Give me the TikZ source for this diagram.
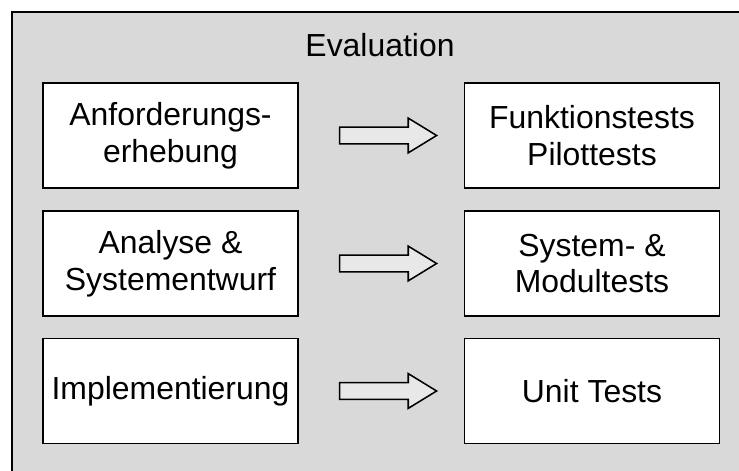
\documentclass[tikz,border=0pt]{standalone}
\usepackage{fontspec}
\setmainfont{Liberation Sans}
\usetikzlibrary{shapes.arrows,calc}

\tikzset{
    stage/.style={draw, fill=white, line width=1.3pt, align=center,
        minimum width=6.375cm, minimum height=2.625cm, inner sep=0pt},
    blockarrow/.style={single arrow, draw, fill=black!9, line width=1.1pt,
        minimum height=2.425cm, inner xsep=0pt, inner ysep=0.19cm,
        single arrow head extend=0.225cm, single arrow tip angle=63}
}

\begin{document}
\begin{tikzpicture}[x=0.025cm, y=-0.025cm, font=\fontsize{22.7}{26.2}\selectfont]
    \useasboundingbox (0,0) rectangle (739,471);
    \clip (0,0) rectangle (739,471);

    % outer frame (runs off the page on the right and at the bottom)
    \draw[fill=black!15, line width=1.3pt] (12,12) rectangle (770,500);
    \node (title) at (380,45) {Evaluation};

    % development phases
    \node[stage] (anf) at (170.5,135.5) {Anforderungs-\\erhebung};
    \node[stage] (ana) at (170.5,263.5) {Analyse \&\\Systementwurf};
    \node[stage] (imp) at (170.5,391) {Implementierung};

    % matching test phases
    \node[stage] (fkt) at (592,135.5) {Funktionstests\\Pilottests};
    \node[stage] (sys) at (592,263.5) {System- \&\\Modultests};
    \node[stage] (unit) at (592,391) {Unit Tests};

    % arrows between the pairs
    \foreach \a/\b in {anf/fkt, ana/sys, imp/unit}
        \node[blockarrow] (arr-\a) at ($(\a.east)!0.5!(\b.west)$) {};
\end{tikzpicture}
\end{document}
